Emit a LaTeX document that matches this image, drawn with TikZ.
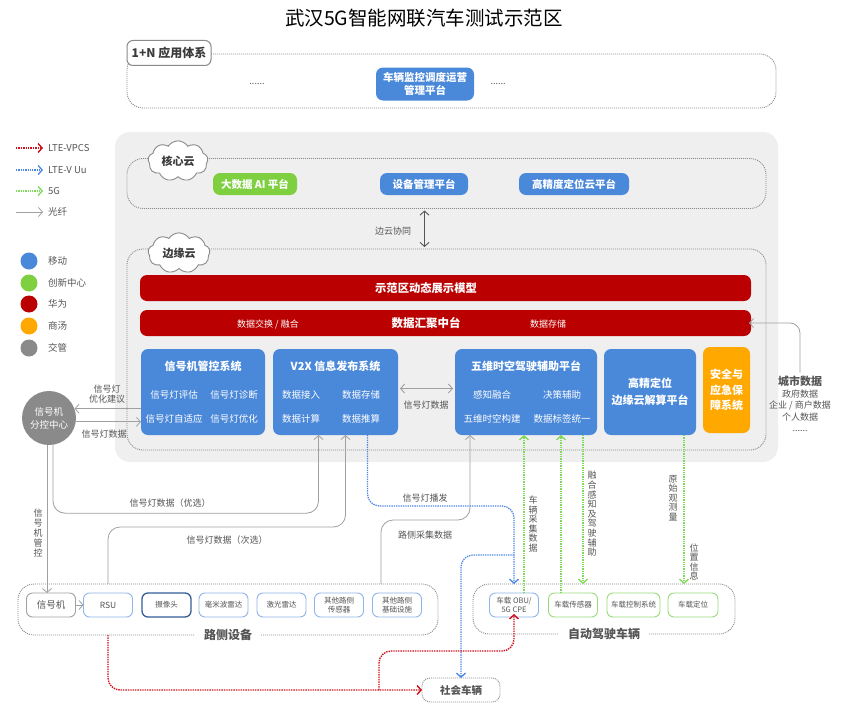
\documentclass[tikz,border=0pt]{standalone}
\usepackage{fontspec}
\setmainfont{Noto Sans CJK SC}
\usetikzlibrary{arrows.meta,calc,shapes.symbols}
\definecolor{cblue}{HTML}{4A88DA}
\definecolor{cgreen}{HTML}{7ED040}
\definecolor{cred}{HTML}{BA0000}
\definecolor{corange}{HTML}{FFA800}
\definecolor{cgrayc}{HTML}{8A8A8A}
\definecolor{cbg}{HTML}{EFEFEF}
\definecolor{ctext}{HTML}{555555}
\definecolor{cline}{HTML}{A0A0A0}
\definecolor{cdark}{HTML}{555555}
\definecolor{cdot}{HTML}{8C8C8C}
\definecolor{clblue}{HTML}{4A86E8}
\definecolor{clgreen}{HTML}{7ED957}
\definecolor{clred}{HTML}{D0101A}
\definecolor{cbord}{HTML}{8FB4E8}
\definecolor{cgbord}{HTML}{9ADB7A}
\newcommand\fsz[2]{\fontsize{#1}{#2}\selectfont}
\tikzset{
 base/.style={inner sep=0pt, outer sep=0pt},
 bluebox/.style={base, fill=cblue, rounded corners=7pt, text=white, align=center},
 greenbox/.style={bluebox, fill=cgreen},
 redbar/.style={base, fill=cred, rounded corners=7pt, text=white},
 framedot/.style={base, draw=cdot, line width=0.9pt, dash pattern=on 1pt off 1pt, rounded corners=16pt},
 btitle/.style={text=white, font=\bfseries\fsz{11}{13}},
 bitem/.style={text=white, font=\fsz{9.5}{11}},
 corebox/.style={bluebox, minimum height=22, font=\bfseries\fsz{10.5}{12}},
 smallbox/.style={base, draw=cbord, line width=0.9pt, fill=white, rounded corners=6pt, minimum width=49, minimum height=24, align=center, text=ctext, font=\fsz{7.5}{9}},
 lbl/.style={text=ctext, font=\fsz{9}{11}, align=center, inner sep=1pt},
 vlbl/.style={text=ctext, font=\fsz{9}{9.6}, align=center, inner sep=1pt},
 legt/.style={anchor=west, inner sep=0pt, text=ctext, font=\fsz{9.5}{11}},
 dotc/.style={circle, base, minimum size=17pt},
 tipb/.style={-{Straight Barb[length=4pt,width=9pt]}},
 garrow/.style={draw=cline, line width=0.8pt, tipb, rounded corners=12pt},
 gdouble/.style={draw=cdark, line width=0.9pt, {Straight Barb[length=4pt,width=9pt]}-{Straight Barb[length=4pt,width=9pt]}, shorten <=2pt, shorten >=2pt},
 bdot/.style={draw=clblue, line width=1.3pt, dash pattern=on 1.3pt off 1pt, rounded corners=12pt, tipb},
 gdot/.style={draw=clgreen, line width=1.3pt, dash pattern=on 1.3pt off 1pt, tipb},
 rdot/.style={draw=clred, line width=1.4pt, dash pattern=on 1.4pt off 1pt, rounded corners=12pt, tipb},
}
\begin{document}
\begin{tikzpicture}[x=1pt,y=-1pt]
\useasboundingbox (0,0) rectangle (848,717);
\fill[white] (0,0) rectangle (848,717);

% title
\node[font=\fsz{19.5}{22}] (title) at (424,18) {武汉5G智能网联汽车测试示范区};

% application layer
\node[framedot, minimum width=649, minimum height=54] (appframe) at (451.5,81) {};
\node[base, draw=cgrayc, line width=1pt, fill=white, rounded corners=6pt, minimum width=84, minimum height=25, font=\bfseries\fsz{12}{14}, text=ctext!70!black] (apptab) at (169,53) {1+N 应用体系};
\node[bluebox, minimum width=98, minimum height=33, font=\bfseries\fsz{10.5}{13}] (appbox) at (425,84) {车辆监控调度运营\\管理平台};
\node[lbl] (appd1) at (257,84) {......};
\node[lbl] (appd2) at (498,84) {......};

% legend
\coordinate (lg1s) at (16,148);
\coordinate (lg2s) at (16,170);
\coordinate (lg3s) at (16,191);
\coordinate (lg4s) at (16,212);
\node[legt] (lg1) at (48,148) {LTE-VPCS};
\node[legt] (lg2) at (48,170) {LTE-V Uu};
\node[legt] (lg3) at (48,191) {5G};
\node[legt] (lg4) at (48,212) {光纤};
\draw[rdot] (lg1s) -- ([xshift=-5pt]lg1.west);
\draw[bdot] (lg2s) -- ([xshift=-5pt]lg2.west);
\draw[gdot] (lg3s) -- ([xshift=-5pt]lg3.west);
\draw[garrow] (lg4s) -- ([xshift=-5pt]lg4.west);
\node[dotc, fill=cblue] (lc1) at (29,261) {};
\node[dotc, fill=cgreen] (lc2) at (29,283) {};
\node[dotc, fill=cred] (lc3) at (29,304) {};
\node[dotc, fill=corange] (lc4) at (29,326) {};
\node[dotc, fill=cgrayc] (lc5) at (29,348) {};
\node[legt] (lt1) at (48,261) {移动};
\node[legt] (lt2) at (48,283) {创新中心};
\node[legt] (lt3) at (48,304) {华为};
\node[legt] (lt4) at (48,326) {商汤};
\node[legt] (lt5) at (48,348) {交管};

% background
\node[base, fill=cbg, rounded corners=15pt, minimum width=663, minimum height=330] (bg) at (446.5,297) {};

% core cloud
\node[framedot, minimum width=639, minimum height=50] (coreframe) at (446.5,183.5) {};
\node[cloud, cloud puffs=9, cloud puff arc=115, aspect=1.5, draw=cgrayc, line width=0.9pt, fill=white, inner sep=1pt, minimum width=60, minimum height=40, font=\bfseries\fsz{11}{13}, text=ctext!70!black] (corecloud) at (178,161) {核心云};
\node[greenbox, corebox, fill=cgreen, minimum width=84] (aibox) at (255,184) {大数据 AI 平台};
\node[corebox, minimum width=88] (devbox) at (424,184) {设备管理平台};
\node[corebox, minimum width=110] (hdcloud) at (574,184) {高精度定位云平台};

% edge cloud
\node[framedot, minimum width=639, minimum height=201] (edgeframe) at (446.5,349.5) {};
\node[cloud, cloud puffs=9, cloud puff arc=115, aspect=1.5, draw=cgrayc, line width=0.9pt, fill=white, inner sep=1pt, minimum width=62, minimum height=40, font=\bfseries\fsz{11}{13}, text=ctext!70!black] (edgecloud) at (179,253) {边缘云};
\draw[gdouble] ([xshift=-22pt]coreframe.south) -- ([xshift=-22pt]coreframe.south |- edgeframe.north);
\node[lbl] (edgelab) at (393,231) {边云协同};

\node[redbar, minimum width=611, minimum height=26] (bar1) at (445.5,288) {};
\node[text=white, font=\bfseries\fsz{11.3}{13}] (bar1-t) at (426,288) {示范区动态展示模型};
\node[redbar, minimum width=611, minimum height=26] (bar2) at (445.5,323) {};
\node[text=white, font=\bfseries\fsz{11.5}{13}] (bar2-t) at (426,323) {数据汇聚中台};
\node[bitem, font=\fsz{9}{11}] (bar2a) at (268,324) {数据交换 / 融合};
\node[bitem, font=\fsz{9}{11}] (bar2b) at (548,324) {数据存储};

% system boxes
\node[bluebox, minimum width=124, minimum height=86] (sigsys) at (203,392) {};
\node[btitle] (sigsys-t) at (203,366) {信号机管控系统};
\node[bitem] (sigsys-a) at (174,395) {信号灯评估};
\node[bitem] (sigsys-b) at (234,395) {信号灯诊断};
\node[bitem] (sigsys-c) at (174,419) {信号灯自适应};
\node[bitem] (sigsys-d) at (234,419) {信号灯优化};

\node[bluebox, minimum width=125, minimum height=86] (v2x) at (335.5,392) {};
\node[btitle] (v2x-t) at (335.5,366) {V2X 信息发布系统};
\node[bitem] (v2x-a) at (301,395) {数据接入};
\node[bitem] (v2x-b) at (361,395) {数据存储};
\node[bitem] (v2x-c) at (301,419) {数据计算};
\node[bitem] (v2x-d) at (361,419) {数据推算};

\node[bluebox, minimum width=142, minimum height=86] (wuwei) at (526,392) {};
\node[btitle] (wuwei-t) at (526,366) {五维时空驾驶辅助平台};
\node[bitem] (wuwei-a) at (492,395) {感知融合};
\node[bitem] (wuwei-b) at (562,395) {决策辅助};
\node[bitem] (wuwei-c) at (492,419) {五维时空构建};
\node[bitem] (wuwei-d) at (562,419) {数据标签统一};

\node[bluebox, minimum width=92, minimum height=86, font=\bfseries\fsz{11}{17}] (hdbox) at (650,392) {高精定位\\边缘云解算平台};
\node[bluebox, fill=corange, minimum width=47, minimum height=86, font=\bfseries\fsz{11}{15.5}] (safety) at (726.5,390) {安全与\\应急保\\障系统};

\draw[gdouble, draw=cline] ([yshift=3.5pt]v2x.east) -- ([yshift=3.5pt]v2x.east -| wuwei.west);
\node[lbl] (sigdata) at (426,405) {信号灯数据};

% city data
\node[text=ctext, align=center, font=\fsz{9}{11.5}] (city) at (800,404) {{\bfseries\fsz{11}{13}城市数据}\\政府数据\\企业 / 商户数据\\个人数据\\......};
\draw[garrow, rounded corners=10pt, shorten >=-2pt] (city.north) |- (bar2.east);

% signal control centre
\node[circle, fill=cgrayc, text=white, minimum size=54pt, inner sep=0pt, align=center, font=\fsz{9.5}{13}] (sc) at (49,418) {信号机\\分控中心};
\draw[garrow] (sigsys.west |- sc.20) -- (sc.20);
\draw[garrow] (sc.-8) -- (sigsys.west |- sc.-8);
\node[lbl, font=\fsz{9}{10.5}] (optlab) at (107,394) {信号灯\\优化建议};
\node[lbl] (sdlab) at (104,434) {信号灯数据};

% roadside devices
\node[framedot, minimum width=420, minimum height=51] (rsframe) at (228,609.5) {};
\node[smallbox, draw=cgrayc!80, font=\fsz{9.5}{11}] (sj) at (51,605) {信号机};
\node[smallbox, font=\fsz{8.5}{10}] (rsu) at (108,605) {RSU};
\node[smallbox, draw=cblue!70!black, line width=1.3pt] (cam) at (166.5,605) {摄像头};
\node[smallbox] (mmw) at (223.5,605) {毫米波雷达};
\node[smallbox] (lidar) at (281.5,605) {激光雷达};
\node[smallbox] (othsens) at (339,605) {其他路侧\\传感器};
\node[smallbox] (infra) at (397,605) {其他路侧\\基础设施};
\node[fill=white, text=ctext, font=\bfseries\fsz{12}{14}, inner xsep=9pt, inner ysep=1pt] (rslab) at (228,635) {路侧设备};
\draw[garrow] (sj.east) -- (rsu.west);

% autonomous vehicles
\node[framedot, minimum width=262, minimum height=50] (avframe) at (604,609) {};
\node[smallbox, font=\fsz{7.5}{9}] (obu) at (514,605) {车载 OBU/\\5G CPE};
\node[smallbox, draw=cgbord] (sensor) at (573,605) {车载传感器};
\node[smallbox, draw=cgbord, minimum width=53] (ctrl) at (633.5,605) {车载控制系统};
\node[smallbox, draw=cgbord, minimum width=50] (pos) at (693,605) {车载定位};
\node[fill=white, text=ctext, font=\bfseries\fsz{12}{14}, inner xsep=9pt, inner ysep=1pt] (avlab) at (604,634) {自动驾驶车辆};

% social vehicles
\node[base, draw=cdot, dash pattern=on 1pt off 1pt, line width=0.9pt, rounded corners=8pt, minimum width=78, minimum height=24, fill=white, text=ctext, font=\bfseries\fsz{10.5}{12}] (social) at (461,690) {社会车辆};

% gray fibre connectors
\draw[garrow] ([xshift=-2pt]sc.south) -- ([xshift=-2pt]sc.south |- sj.north);
\node[vlbl, font=\fsz{9}{10}] (sjctl) at (38,533) {信\\号\\机\\管\\控};
\draw[garrow] ([xshift=4pt]sc.south) -- ++(0,68) -| ([xshift=-17pt]v2x.south);
\node[lbl] (pref) at (170,503) {信号灯数据（优选）};
\draw[garrow] (rsu.north |- rsframe.north) -- ++(0,-57) -| ([xshift=10pt]v2x.south);
\node[lbl] (sec) at (227,540) {信号灯数据（次选）};
\draw[garrow] ([xshift=-16pt]infra.north |- rsframe.north) -- ++(0,-64) -| ([xshift=-56pt]wuwei.south);
\node[lbl] (rscol) at (425,535) {路侧采集数据};

% blue LTE-V Uu
\draw[bdot] ([xshift=32pt]v2x.south) -- ++(0,71) -| (obu.north |- avframe.north);
\node[lbl] (bcast) at (425,498) {信号灯播发};
\draw[bdot] ($(obu.north)+(0,-38)$) -| (social.north);

% red LTE-VPCS
\draw[rdot] (rsu.south |- rsframe.south) |- (social.west);
\draw[rdot, shorten >=-3pt] ($(social.west)+(-43,0)$) |- ($(obu.south)+(0,34)$) -- (obu.south);

% green 5G
\draw[gdot] ([xshift=10pt]obu.north) -- ([xshift=10pt]obu.north |- wuwei.south);
\node[vlbl] (carcol) at (533,524) {车\\辆\\采\\集\\数\\据};
\draw[gdot] ([xshift=-12pt]sensor.north) -- ([xshift=-12pt]sensor.north |- wuwei.south);
\draw[gdot] ([xshift=-14pt]wuwei.south east) -- ([xshift=-14pt]wuwei.south east |- avframe.north);
\node[vlbl] (fuse) at (592,514) {融\\合\\感\\知\\及\\驾\\驶\\辅\\助};
\draw[gdot] ([xshift=-12pt]hdbox.south east) -- ([xshift=-12pt]hdbox.south east |- avframe.north);
\node[vlbl] (rawobs) at (673,498) {原\\始\\观\\测\\量};
\node[vlbl] (posinfo) at (694,562) {位\\置\\信\\息};
\end{tikzpicture}
\end{document}
